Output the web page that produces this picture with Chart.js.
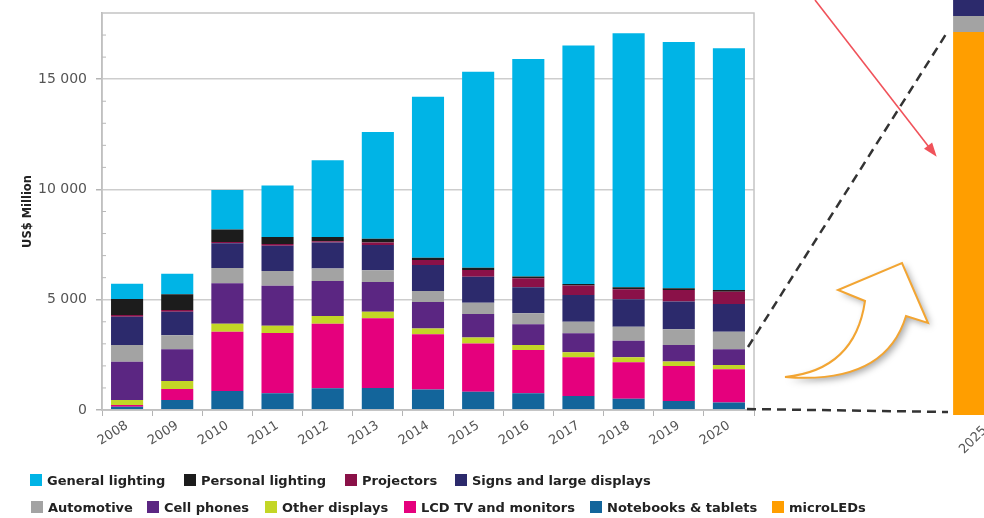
<!DOCTYPE html>
<html>
<head>
<meta charset="utf-8">
<script src="https://cdn.jsdelivr.net/npm/chart.js@4.4.1/dist/chart.umd.min.js"></script>
<style>
  html, body { margin: 0; padding: 0; background: #fff; }
  body { width: 984px; height: 518px; overflow: hidden; position: relative; font-family: "DejaVu Sans", Verdana, sans-serif; }
  #main { position: absolute; left: 0; top: 0; width: 984px; height: 518px; }
  #side { position: absolute; left: 930px; top: 0; width: 110px; height: 470px; }
  .item { position: absolute; font-weight: bold; font-size: 13px; color: #222; white-space: nowrap; line-height: 14px; }
  .item .sw { display: inline-block; width: 12px; height: 12px; margin-right: 5px; vertical-align: -1px; }
</style>
</head>
<body>
<div id="main"><canvas id="mainChart"></canvas></div>
<div id="side"><canvas id="sideChart"></canvas></div>
<div id="legend"></div>
<script>
"use strict";

const years = ["2008", "2009", "2010", "2011", "2012", "2013", "2014", "2015", "2016", "2017", "2018", "2019", "2020"];

// US$ million (bottom to top)
const notebooks = [150, 455, 860, 755, 985, 1000, 935, 830, 755, 635, 515, 410, 335];
const lcdTv = [75, 500, 2690, 2735, 2930, 3160, 2495, 2190, 1965, 1755, 1650, 1590, 1510];
const otherDisplays = [225, 360, 365, 330, 350, 300, 270, 270, 225, 225, 225, 195, 195];
const cellPhones = [1740, 1435, 1830, 1815, 1585, 1345, 1195, 1060, 940, 860, 755, 755, 710];
const automotive = [755, 635, 695, 665, 560, 530, 500, 515, 500, 530, 635, 710, 800];
const signs = [1285, 1075, 1120, 1150, 1180, 1150, 1180, 1180, 1180, 1210, 1240, 1255, 1255];
const projectors = [75, 75, 60, 75, 60, 105, 225, 300, 410, 425, 455, 530, 560];
const personalLighting = [725, 710, 560, 320, 195, 180, 105, 105, 75, 75, 90, 75, 75];
const generalLighting = [695, 935, 1800, 2330, 3480, 4840, 7300, 8890, 9860, 10810, 11520, 11160, 10960];

// 2025 zoomed bar
const years2025 = ["2025"];
const microLeds2025 = [2400];
const automotive2025 = [100];
const signs2025 = [400];

const yTicksMajor = [0, 5000, 10000, 15000];

const colors = {
  general: "#00b4e6",
  personal: "#1c1c1c",
  projectors: "#8a1148",
  signs: "#2c2a6c",
  automotive: "#a3a3a3",
  cell: "#5b2682",
  other: "#c3d626",
  lcd: "#e5007d",
  notebooks: "#13659b",
  micro: "#ff9e00",
};

const fontFamily = "'DejaVu Sans', Verdana, sans-serif";

function fmt(v) {
  return String(v).replace(/\B(?=(\d{3})+(?!\d))/g, " ");
}

const annotations = {
  id: "annotations",
  afterDraw(chart) {
    const ctx = chart.ctx;
    const area = chart.chartArea;
    const y = chart.scales.y;
    ctx.save();

    // plot frame
    ctx.strokeStyle = "#c4c4c4";
    ctx.lineWidth = 1.5;
    ctx.strokeRect(area.left, area.top, area.right - area.left, area.bottom - area.top);

    // minor ticks inside the axis
    ctx.strokeStyle = "#b8b8b8";
    ctx.lineWidth = 1;
    y.ticks.forEach((t) => {
      if (t.value % 5000 !== 0 && t.value < 18000) {
        const py = y.getPixelForValue(t.value);
        ctx.beginPath();
        ctx.moveTo(area.left, py);
        ctx.lineTo(area.left + 4, py);
        ctx.stroke();
      }
    });

    // dashed zoom lines
    ctx.strokeStyle = "#333";
    ctx.lineWidth = 2.5;
    ctx.setLineDash([9, 6]);
    ctx.beginPath();
    ctx.moveTo(748, 347);
    ctx.lineTo(948, 31);
    ctx.moveTo(747, 409);
    ctx.lineTo(948, 412);
    ctx.stroke();
    ctx.setLineDash([]);

    // red arrow
    ctx.strokeStyle = "#f0525a";
    ctx.fillStyle = "#f0525a";
    ctx.lineWidth = 1.6;
    ctx.beginPath();
    ctx.moveTo(815, 0);
    ctx.lineTo(932, 151);
    ctx.stroke();
    const ang = Math.atan2(156.7, 121.7);
    ctx.beginPath();
    ctx.moveTo(936.7, 156.7);
    ctx.lineTo(936.7 - 15 * Math.cos(ang - 0.35), 156.7 - 15 * Math.sin(ang - 0.35));
    ctx.lineTo(936.7 - 15 * Math.cos(ang + 0.35), 156.7 - 15 * Math.sin(ang + 0.35));
    ctx.closePath();
    ctx.fill();

    // orange curved arrow
    ctx.shadowColor = "rgba(0,0,0,0.35)";
    ctx.shadowBlur = 7;
    ctx.shadowOffsetX = 3;
    ctx.shadowOffsetY = 3;
    ctx.beginPath();
    ctx.moveTo(785, 377);
    ctx.quadraticCurveTo(885, 385, 906, 316);
    ctx.lineTo(928, 323);
    ctx.lineTo(902, 263);
    ctx.lineTo(838, 290);
    ctx.lineTo(865, 301);
    ctx.quadraticCurveTo(855, 370, 785, 377);
    ctx.closePath();
    ctx.fillStyle = "#fff";
    ctx.fill();
    ctx.shadowColor = "transparent";
    ctx.strokeStyle = "#f2a533";
    ctx.lineWidth = 2;
    ctx.lineJoin = "miter";
    ctx.stroke();

    ctx.restore();
  },
};

const mainCtx = document.getElementById("mainChart").getContext("2d");
const mainChart = new Chart(mainCtx, {
  type: "bar",
  data: {
    labels: years,
    datasets: [
      { label: "Notebooks & tablets", data: notebooks, backgroundColor: colors.notebooks },
      { label: "LCD TV and monitors", data: lcdTv, backgroundColor: colors.lcd },
      { label: "Other displays", data: otherDisplays, backgroundColor: colors.other },
      { label: "Cell phones", data: cellPhones, backgroundColor: colors.cell },
      { label: "Automotive", data: automotive, backgroundColor: colors.automotive },
      { label: "Signs and large displays", data: signs, backgroundColor: colors.signs },
      { label: "Projectors", data: projectors, backgroundColor: colors.projectors },
      { label: "Personal lighting", data: personalLighting, backgroundColor: colors.personal },
      { label: "General lighting", data: generalLighting, backgroundColor: colors.general },
    ],
  },
  options: {
    responsive: true,
    maintainAspectRatio: false,
    animation: false,
    categoryPercentage: 0.8,
    barPercentage: 0.8,
    layout: { padding: { top: 13, right: 230, left: 0, bottom: 0 } },
    plugins: {
      legend: { display: false },
      tooltip: { enabled: false },
    },
    scales: {
      x: {
        stacked: true,
        afterFit: (s) => { s.height = 108; },
        grid: { display: true, drawOnChartArea: false, offset: true, tickLength: 6, color: "#b4b4b4" },
        border: { color: "#b4b4b4", width: 1.5 },
        ticks: {
          minRotation: 32,
          maxRotation: 32,
          padding: 2,
          color: "#555",
          font: { family: fontFamily, size: 13 },
        },
      },
      y: {
        stacked: true,
        min: 0,
        max: 18000,
        afterFit: (s) => {
          s.width = 102;
          s.paddingTop = 0;
          s.paddingBottom = 0;
        },
        border: { color: "#b4b4b4", width: 1.5 },
        grid: {
          color: (c) => (yTicksMajor.includes(c.tick.value) ? "#cdcdcd" : "transparent"),
          tickColor: (c) => (yTicksMajor.includes(c.tick.value) ? "#b4b4b4" : "transparent"),
          lineWidth: 1.5,
          tickLength: 6,
        },
        ticks: {
          stepSize: 1000,
          autoSkip: false,
          padding: 9,
          color: "#555",
          font: { family: fontFamily, size: 14 },
          callback: (v) => (yTicksMajor.includes(v) ? fmt(v) : ""),
        },
        title: {
          display: true,
          text: "US$ Million",
          color: "#222",
          padding: { top: 21, bottom: 0 },
          font: { family: fontFamily, size: 11.5, weight: "bold" },
        },
      },
    },
  },
  plugins: [annotations],
});

const sideCtx = document.getElementById("sideChart").getContext("2d");
const sideChart = new Chart(sideCtx, {
  type: "bar",
  data: {
    labels: years2025,
    datasets: [
      { label: "microLEDs", data: microLeds2025, backgroundColor: colors.micro },
      { label: "Automotive", data: automotive2025, backgroundColor: colors.automotive },
      { label: "Signs and large displays", data: signs2025, backgroundColor: colors.signs },
    ],
  },
  options: {
    responsive: true,
    maintainAspectRatio: false,
    animation: false,
    categoryPercentage: 1,
    barPercentage: 0.58,
    layout: { padding: 0 },
    plugins: { legend: { display: false }, tooltip: { enabled: false } },
    scales: {
      x: {
        stacked: true,
        afterFit: (s) => { s.height = 55; },
        grid: { display: false },
        border: { display: false },
        ticks: {
          minRotation: 45,
          maxRotation: 45,
          padding: 0,
          color: "#555",
          font: { family: fontFamily, size: 13 },
        },
      },
      y: { stacked: true, display: false, min: 0, max: 2600 },
    },
  },
});

// legend, same order and spots as the original
const legendRows = [
  [["General lighting", colors.general, 30], ["Personal lighting", colors.personal, 184], ["Projectors", colors.projectors, 345], ["Signs and large displays", colors.signs, 455]],
  [["Automotive", colors.automotive, 31], ["Cell phones", colors.cell, 147], ["Other displays", colors.other, 265], ["LCD TV and monitors", colors.lcd, 404], ["Notebooks & tablets", colors.notebooks, 590], ["microLEDs", colors.micro, 772]],
];
const legendTops = [474, 501];
const legendEl = document.getElementById("legend");
legendRows.forEach((row, r) => {
  row.forEach(([name, color, left]) => {
    const d = document.createElement("div");
    d.className = "item";
    d.style.left = left + "px";
    d.style.top = legendTops[r] + "px";
    const sw = document.createElement("span");
    sw.className = "sw";
    sw.style.background = color;
    d.appendChild(sw);
    d.appendChild(document.createTextNode(name));
    legendEl.appendChild(d);
  });
});
</script>
</body>
</html>
